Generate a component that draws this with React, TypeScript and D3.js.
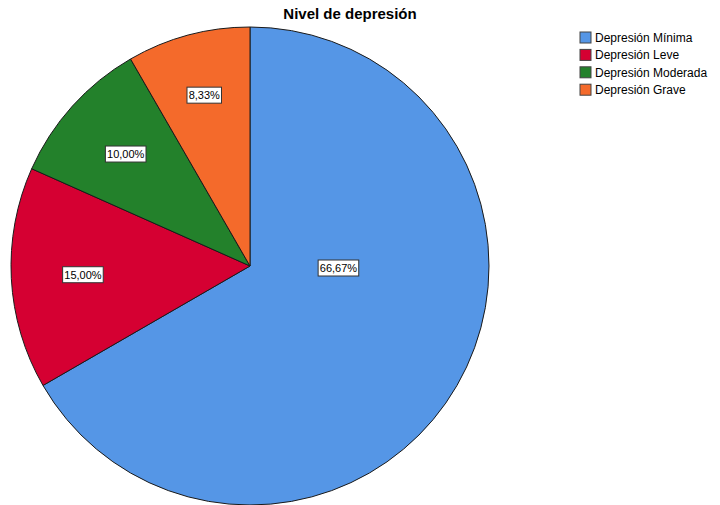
import React from "react";
import * as d3 from "d3";

const categories = ["Depresión Mínima", "Depresión Leve", "Depresión Moderada", "Depresión Grave"];
const values = [66.67, 15.0, 10.0, 8.33];
const labels = ["66,67%", "15,00%", "10,00%", "8,33%"];
const colors = ["#5596e6", "#d50032", "#23812b", "#f46a2b"];
const title = "Nivel de depresión";

const W = 720;
const H = 505;
const cx = 250;
const cy = 266;
const R = 239;

export default function App() {
  const pie = d3.pie<number>().sort(null).value((d) => d);
  const arcs = pie(values);
  const arc = d3.arc<d3.PieArcDatum<number>>().innerRadius(0).outerRadius(R);

  const labelPos = (d: d3.PieArcDatum<number>) => {
    const span = d.endAngle - d.startAngle;
    if (span > Math.PI) {
      return [R * 0.37, 2];
    }
    const mid = (d.startAngle + d.endAngle) / 2;
    const r = R * (span < 0.6 ? 0.74 : 0.7);
    return [Math.sin(mid) * r, -Math.cos(mid) * r];
  };

  return (
    <svg width={W} height={H} style={{ position: "absolute", left: 0, top: 0, background: "#fff" }}
      fontFamily="'Liberation Sans', Arial, sans-serif">
      <text x={350} y={19} textAnchor="middle" fontSize={15} fontWeight="bold" fill="#000">{title}</text>
      <g transform={`translate(${cx},${cy})`}>
        {arcs.map((a, i) => (
          <path key={i} d={arc(a) || ""} fill={colors[i]} stroke="#1a1a1a" strokeWidth={1} strokeLinejoin="round" />
        ))}
        {arcs.map((a, i) => {
          const [x, y] = labelPos(a);
          const w = labels[i].length * 6.1 + 4;
          return (
            <g key={"l" + i} transform={`translate(${x},${y})`}>
              <rect x={-w / 2} y={-8} width={w} height={16} fill="#fff" stroke="#333" strokeWidth={1} />
              <text x={0} y={4} textAnchor="middle" fontSize={11} fill="#000">{labels[i]}</text>
            </g>
          );
        })}
      </g>
      <g transform="translate(580,32)">
        {categories.map((c, i) => (
          <g key={c} transform={`translate(0,${i * 17.4})`}>
            <rect x={0} y={0} width={11} height={11} fill={colors[i]} stroke="#444" strokeWidth={1} />
            <text x={15} y={10} fontSize={12} fill="#000">{c}</text>
          </g>
        ))}
      </g>
    </svg>
  );
}
